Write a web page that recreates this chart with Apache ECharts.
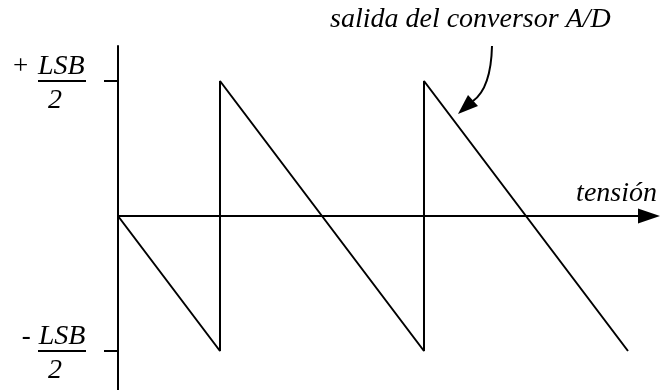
<!DOCTYPE html>
<html>
<head>
<meta charset="utf-8">
<script src="https://cdn.jsdelivr.net/npm/echarts@6/dist/echarts.min.js"></script>
<style>
  html, body { margin: 0; padding: 0; background: #fff; }
  #chart { width: 662px; height: 390px; }
</style>
</head>
<body>
<div id="chart"></div>
<script>
// Quantisation error of an A/D converter versus input voltage, in LSB units
const tension = [0, 0.5, 0.5, 1.5, 1.5, 2.5];
const errorLSB = [0, -0.5, 0.5, -0.5, 0.5, -0.5];
const levelTicks = [-0.5, 0.5];
const axisName = 'tensión';
const curveNote = 'salida del conversor A/D';

const serif = '"Liberation Serif", "Times New Roman", serif';
const chart = echarts.init(document.getElementById('chart'), null, { renderer: 'canvas' });

chart.setOption({
  animation: false,
  backgroundColor: '#fff',
  grid: { left: 118, right: 13, top: 46, bottom: 0, containLabel: false, outerBoundsMode: 'none' },
  xAxis: {
    type: 'value',
    min: 0,
    max: 2.603,
    axisLine: {
      onZero: true,
      symbol: ['none', 'triangle'],
      symbolSize: [15, 22],
      lineStyle: { color: '#000', width: 2 }
    },
    axisTick: { show: false },
    axisLabel: { show: false },
    splitLine: { show: false },
    name: axisName,
    nameLocation: 'end',
    nameGap: 8,
    nameTextStyle: {
      fontFamily: serif,
      fontStyle: 'italic',
      fontSize: 28,
      color: '#000',
      align: 'right',
      verticalAlign: 'bottom',
      lineHeight: 44
    }
  },
  yAxis: {
    type: 'value',
    min: -0.6444,
    max: 0.6296,
    axisLine: { show: true, onZero: false, lineStyle: { color: '#000', width: 2 } },
    axisTick: { show: true, customValues: levelTicks, length: 14, lineStyle: { color: '#000', width: 2 } },
    splitLine: { show: false },
    axisLabel: {
      show: true,
      customValues: levelTicks,
      margin: 105,
      align: 'left',
      padding: [12, 0, 0, 0],
      formatter: function (v) {
        const sign = v > 0 ? '{sp|+}' : '{sm|-}';
        return sign + '{n|LSB}\n{gap|}{bar|}\n{gap2|}{d|2}';
      },
      rich: {
        sp: { fontFamily: serif, fontSize: 27, color: '#000', width: 25, lineHeight: 26 },
        sm: { fontFamily: serif, fontSize: 27, color: '#000', width: 25, align: 'center', lineHeight: 26 },
        n: { fontFamily: serif, fontStyle: 'italic', fontSize: 28, color: '#000', lineHeight: 26 },
        gap: { width: 25, height: 2, lineHeight: 2 },
        bar: { width: 48, height: 2, lineHeight: 2, backgroundColor: '#000' },
        gap2: { width: 35, lineHeight: 38 },
        d: { fontFamily: serif, fontStyle: 'italic', fontSize: 28, color: '#000', lineHeight: 38 }
      }
    }
  },
  series: [{
    type: 'line',
    data: tension.map((x, i) => [x, errorLSB[i]]),
    showSymbol: false,
    symbol: 'none',
    clip: false,
    lineStyle: { color: '#000', width: 2 }
  }],
  graphic: [
    {
      type: 'text',
      x: 330,
      y: 20,
      style: {
        text: curveNote,
        fontFamily: serif,
        fontStyle: 'italic',
        fontSize: 28,
        fill: '#000',
        align: 'left',
        verticalAlign: 'middle'
      }
    },
    {
      type: 'bezierCurve',
      shape: { x1: 492, y1: 46, cpx1: 491, cpy1: 88, x2: 473, y2: 101 },
      style: { stroke: '#000', lineWidth: 2, fill: null }
    },
    {
      type: 'polygon',
      shape: { points: [[458, 114], [468, 95], [478, 106]] },
      style: { fill: '#000' }
    }
  ]
});
</script>
</body>
</html>
